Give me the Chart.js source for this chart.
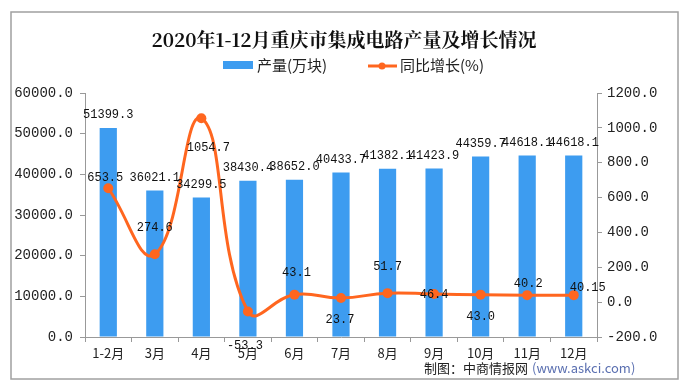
<!DOCTYPE html>
<html>
<head>
<meta charset="utf-8">
<script src="https://cdn.jsdelivr.net/npm/chart.js@4/dist/chart.umd.min.js"></script>
<style>
    html, body { margin: 0; padding: 0; background: #fff; }
    #wrap { position: relative; width: 690px; height: 390px; }
</style>
</head>
<body>
<div id="wrap"><canvas id="main-chart"></canvas></div>
<script>
// data
const months = ['1-2月', '3月', '4月', '5月', '6月', '7月', '8月', '9月', '10月', '11月', '12月'];
const output = [51399.3, 36021.1, 34299.5, 38430.4, 38652.0, 40433.7, 41382.1, 41423.9, 44359.7, 44618.1, 44618.1];
const growth = [653.5, 274.6, 1054.7, -53.3, 43.1, 23.7, 51.7, 46.4, 43.0, 40.2, 40.15];
const growthText = ['653.5', '274.6', '1054.7', '-53.3', '43.1', '23.7', '51.7', '46.4', '43.0', '40.2', '40.15'];
const leftTicks = [0, 10000, 20000, 30000, 40000, 50000, 60000];
const rightTicks = [-200, 0, 200, 400, 600, 800, 1000, 1200];

const BLUE = '#3d9cf0';
const ORANGE = '#ff661f';
const MONO = '"Liberation Mono", "DejaVu Sans Mono", monospace';
const CJK = '"Noto Sans CJK SC", "Noto Sans", sans-serif';

// where each growth label sits relative to its point: [dx, dy]
const growthLabelPos = [[-3, -10], [0, -26], [7, 30], [-3, 34], [2, -22], [-1, 22], [0, -26], [0, 1], [0, 22], [1, -11], [14, -7]];

const extras = {
    id: 'extras',
    beforeDraw(chart) {
        const ctx = chart.ctx;
        ctx.save();
        ctx.fillStyle = '#fff';
        ctx.fillRect(0, 0, chart.width, chart.height);
        ctx.strokeStyle = '#a0a0a0';
        ctx.lineWidth = 1.5;
        ctx.strokeRect(11, 12, 667, 367);
        ctx.restore();
    },
    afterDraw(chart) {
        const ctx = chart.ctx;
        ctx.save();
        // title
        ctx.fillStyle = '#111';
        ctx.textAlign = 'center';
        ctx.textBaseline = 'middle';
        ctx.font = 'bold 19px "Noto Serif CJK SC", "DejaVu Serif", ' + CJK;
        ctx.fillText('2020年1-12月重庆市集成电路产量及增长情况', 344, 40);

        // legend
        ctx.font = '15px ' + CJK;
        ctx.textAlign = 'left';
        ctx.fillStyle = BLUE;
        ctx.fillRect(223, 61, 30, 8);
        ctx.fillStyle = '#222';
        ctx.fillText('产量(万块)', 257, 65);
        ctx.strokeStyle = ORANGE;
        ctx.lineWidth = 3;
        ctx.beginPath(); ctx.moveTo(368, 66); ctx.lineTo(397, 66); ctx.stroke();
        ctx.fillStyle = ORANGE;
        ctx.beginPath(); ctx.arc(382, 66, 3.5, 0, Math.PI * 2); ctx.fill();
        ctx.fillStyle = '#222';
        ctx.fillText('同比增长(%)', 400, 65);

        // value labels
        ctx.font = '12px ' + MONO;
        ctx.textAlign = 'center';
        ctx.fillStyle = '#111';
        const lineMeta = chart.getDatasetMeta(0);
        const barMeta = chart.getDatasetMeta(1);
        barMeta.data.forEach((bar, i) => {
            ctx.fillText(output[i].toFixed(1), bar.x, bar.y - 13);
        });
        lineMeta.data.forEach((pt, i) => {
            const p = growthLabelPos[i];
            ctx.fillText(growthText[i], pt.x + p[0], pt.y + p[1]);
        });

        // source note
        ctx.font = '13px ' + CJK;
        ctx.textAlign = 'left';
        ctx.fillStyle = '#222';
        ctx.fillText('制图：中商情报网', 424, 368);
        ctx.fillStyle = '#5a6fb0';
        ctx.fillText('(www.askci.com)', 532, 368);
        ctx.restore();
    }
};

const ctx = document.getElementById('main-chart').getContext('2d');
const chart = new Chart(ctx, {
    data: {
        labels: months,
        datasets: [{
            type: 'line',
            label: '同比增长(%)',
            data: growth,
            yAxisID: 'y1',
            borderColor: ORANGE,
            backgroundColor: ORANGE,
            borderWidth: 3,
            pointRadius: 5,
            pointBackgroundColor: ORANGE,
            pointBorderWidth: 0,
            tension: 0.45,
            order: 0
        }, {
            type: 'bar',
            label: '产量(万块)',
            data: output,
            yAxisID: 'y',
            backgroundColor: BLUE,
            barPercentage: 0.37,
            categoryPercentage: 1,
            order: 1
        }]
    },
    options: {
        responsive: true,
        maintainAspectRatio: false,
        animation: false,
        layout: { padding: { top: 93, left: 0, right: 0, bottom: 0 } },
        plugins: {
            legend: { display: false },
            title: { display: false },
            tooltip: { enabled: false }
        },
        scales: {
            x: {
                grid: { display: true, drawOnChartArea: false, offset: true, tickLength: 5, color: '#999' },
                border: { color: '#999' },
                ticks: { color: '#222', font: { family: CJK, size: 13 }, padding: 3, maxRotation: 0, autoSkip: false },
                afterFit: s => { s.height = 53; }
            },
            y: {
                position: 'left',
                min: 0,
                max: 60000,
                afterBuildTicks: s => { s.ticks = leftTicks.map(v => ({ value: v })); },
                grid: { drawOnChartArea: false, tickLength: 5, color: '#999' },
                border: { color: '#999' },
                ticks: { color: '#222', font: { family: MONO, size: 14 }, padding: 7, callback: v => v.toFixed(1) },
                afterFit: s => { s.width = 85; }
            },
            y1: {
                position: 'right',
                min: -200,
                max: 1200,
                afterBuildTicks: s => { s.ticks = rightTicks.map(v => ({ value: v })); },
                grid: { drawOnChartArea: false, tickLength: 5, color: '#999' },
                border: { color: '#999' },
                ticks: { color: '#222', font: { family: MONO, size: 14 }, padding: 5, callback: v => v.toFixed(1) },
                afterFit: s => { s.width = 93; }
            }
        }
    },
    plugins: [extras]
});
</script>
</body>
</html>
